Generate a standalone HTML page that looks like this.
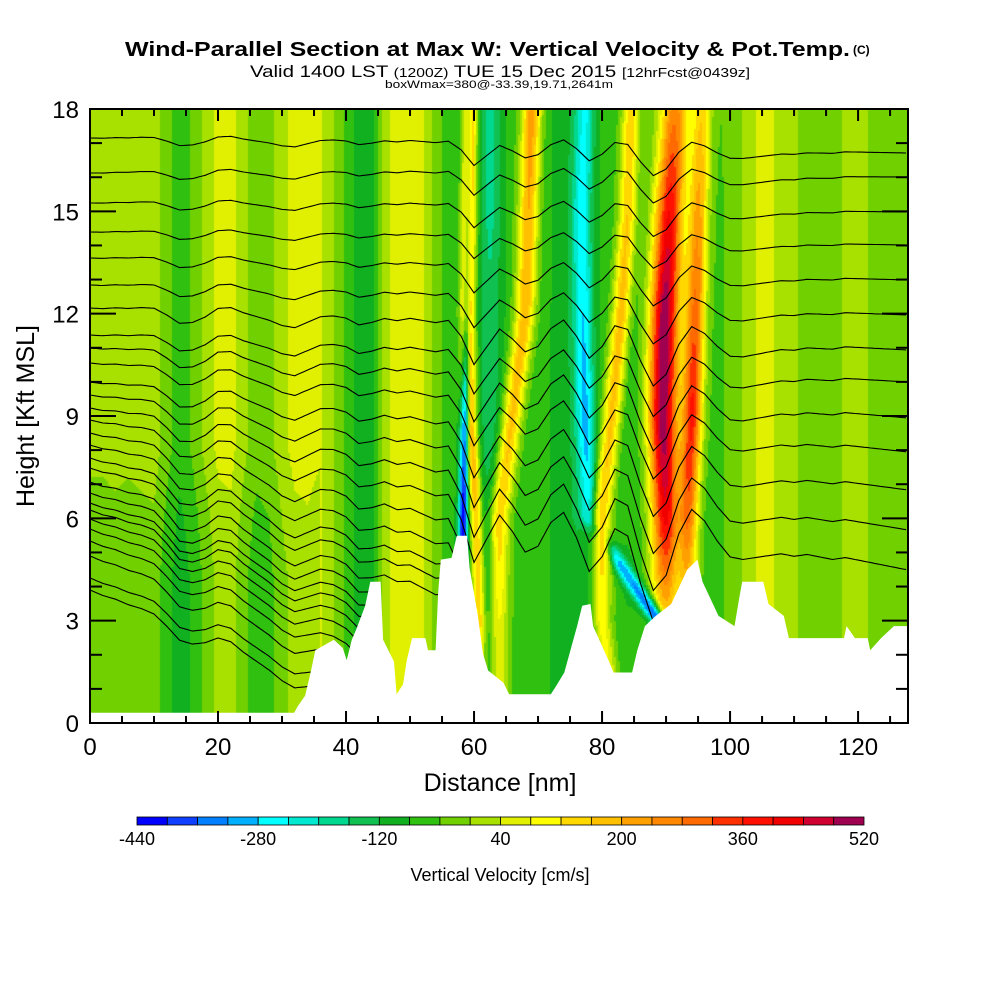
<!DOCTYPE html>
<html><head><meta charset="utf-8"><style>
html,body{margin:0;padding:0;background:#fff;width:1000px;height:1000px;overflow:hidden}
#wrap{position:relative;width:1000px;height:1000px}
#field{position:absolute;left:0;top:0}
#svg{position:absolute;left:0;top:0}
text{font-family:"Liberation Sans",Arial,sans-serif;fill:#000}
</style></head><body>
<div id="wrap">
<canvas id="field" width="1000" height="1000"></canvas>
<svg id="svg" width="1000" height="1000" xmlns="http://www.w3.org/2000/svg">
<g id="contours"></g>
<polygon id="terrain" fill="#fff"></polygon>
<g id="axes"></g>
<text x="125" y="56" font-size="20" font-weight="bold" textLength="725" lengthAdjust="spacingAndGlyphs">Wind-Parallel Section at Max W: Vertical Velocity &amp; Pot.Temp.</text>
<text x="853" y="54" font-size="12" font-weight="bold">(C)</text>
<text x="250" y="77" textLength="500" lengthAdjust="spacingAndGlyphs"><tspan font-size="17">Valid 1400 LST </tspan><tspan font-size="13">(1200Z)</tspan><tspan font-size="17"> TUE 15 Dec 2015 </tspan><tspan font-size="13">[12hrFcst@0439z]</tspan></text>
<text x="385" y="88" font-size="11" textLength="228" lengthAdjust="spacingAndGlyphs">boxWmax=380@-33.39,19.71,2641m</text>
<text x="500" y="791" font-size="25" text-anchor="middle">Distance [nm]</text>
<text transform="translate(34,416) rotate(-90)" font-size="25" text-anchor="middle">Height [Kft MSL]</text>
<g id="cbar"></g>
<text x="500" y="881" font-size="18" text-anchor="middle">Vertical Velocity [cm/s]</text>
</svg>
</div>
<script>
// ---- data ----
const colorBins = ["#0000ff","#1040ff","#0080ff","#00b0ff","#00ffff","#00e8d0","#00d890","#10c050","#10b020","#30c010","#70d000","#a8e000","#e0f000","#ffff00","#ffd800","#ffc000","#ffa000","#ff8800","#ff6a00","#ff3000","#ff1000","#f00000","#d00030","#a00050"];
const cbarTicks = [-440,-280,-120,40,200,360,520];
const xTicks = [0,20,40,60,80,100,120];
const yTicks = [0,3,6,9,12,15,18];
const baseX = [0,2,4,6,8,10,12,14,16,18,20,22,24,26,28,30,32,34,36,38,40,42,44,46,48,50,52,54,56,58,60,62,64,66,68,70,72,74,76,78,80,82,84,86,88,90,92,94,96,98,100,102,104,106,108,110,112,114,116,118,120,122,124,126,128];
const baseW = [10,10,15,10,15,20,-25,-65,-35,10,50,55,10,-25,-15,25,55,60,45,5,-45,-95,-110,25,65,65,45,-15,-60,-80,-80,-100,-90,-60,-60,-60,-80,-100,-120,-100,-70,-60,-80,-60,-40,-40,-30,-30,-60,-50,-30,5,40,45,35,10,-25,-25,-15,5,15,-5,-15,-5,-5];
const lowShiftH = [0,4,6,8,18];
const lowShiftW = [-40,-40,-25,0,0];
const stripeH = [0,3,6,9,12,15,18];
const stripeCenters = [
 [90,90,90,89.5,89.8,90.5,91.4],
 [93,93,93.3,94,94.5,95,95.5],
 [61,61,60.5,59.3,59,59.2,59.5],
 [58.3,58.3,58.3,58.5,58.8,59,59],
 [63,63,62.5,62.5,62.5,62.5,62.5],
 [64,64,64,66,68,68.5,69],
 [88.7,88.7,78,77.3,77,76.8,77.3],
 [82,80,80,81.5,83,84,84.5]
];
const stripePeaks = [
 [100,150,420,520,520,400,260],
 [60,100,300,380,300,220,150],
 [120,180,200,230,260,250,200],
 [-440,-440,-440,-300,0,40,40],
 [-100,-100,-120,-150,-150,-170,-180],
 [60,80,150,170,190,200,220],
 [-300,-360,-260,-300,-280,-270,-250],
 [60,100,150,170,180,160,150]
];
const stripeWidths = [2.2,1.6,1.1,0.7,1.5,1.5,1.4,1.4];
const terrainX = [0,31.9,32.5,33.6,34.5,35.2,38.1,39.5,40.1,40.9,41.7,43.0,43.8,45.4,45.8,47.5,47.9,48.9,49.5,50.3,52.4,52.8,54.0,54.4,54.8,56.5,57.3,58.9,59.3,60.6,61.4,62.2,64.6,65.5,72.0,72.8,74.1,76.1,76.9,78.2,78.6,81.0,81.8,84.7,85.5,86.7,88.4,90.8,93.3,94.9,95.7,98.2,100.7,101.5,101.9,105.2,106.0,108.4,109.2,117.8,118.2,119.5,121.5,121.9,123.6,125.6,127.8];
const terrainH = [0.3,0.3,0.5,0.8,1.5,2.13,2.44,2.2,1.84,2.44,2.79,3.44,4.14,4.14,2.44,1.8,0.84,1.13,1.84,2.49,2.49,2.13,2.13,3.84,4.79,4.84,5.49,5.49,4.54,3.14,2.03,1.54,1.18,0.84,0.84,1.08,1.48,2.84,3.44,3.49,2.84,1.84,1.48,1.48,2.13,2.84,3.14,3.49,4.49,4.79,4.14,3.14,2.84,3.74,4.14,4.14,3.49,3.14,2.49,2.49,2.84,2.49,2.49,2.13,2.49,2.84,2.84];
const waveX = baseX;
const waveD = [0,0,0.05,0.05,0.1,0.1,-0.1,-0.35,-0.3,-0.1,0.2,0.25,0.1,0,-0.1,-0.25,-0.3,-0.1,0.1,0.15,0.1,-0.1,0,0.15,0.1,0.2,0.15,0.1,0.2,-0.3,-1.2,-0.6,0,-0.3,-0.7,-0.5,0.1,0.4,-0.1,-0.8,-0.4,0.3,0.2,-0.8,-1.6,-1.2,-0.2,0.4,0.2,-0.2,-0.5,-0.5,-0.4,-0.3,-0.2,-0.2,-0.1,-0.1,-0.1,0,0,0,0,0,0];
const thetaLeftY = [138,173,203,232,258,285,308,335,348,363,382,395,408,420,433,445,458,468,482,493,503,510,519,529,541,556,578,590];
const thetaRightY = [153,177,212,245,280,315,350,382,418,452,490,530,570,610,650,690,720,740,760,780,800,820,840,860,880,900,920,940];
const thetaAmp = [0.5,0.5,0.5,0.5,0.6,0.7,0.9,0.9,1,1,1.1,1.2,1.3,1.3,1.4,1.4,1.4,1.4,1.4,1.4,1.3,1.3,1.2,1.2,1.1,1.1,1,1];

// ---- scales ----
const X0=90, X1=908, Y0=723, Y1=109, NMMAX=127.8, HMAX=18;
const sx = nm => X0 + nm*(X1-X0)/NMMAX;
const sy = h => Y0 - h*(Y0-Y1)/HMAX;
const inx = px => (px-X0)*NMMAX/(X1-X0);
const iny = py => (Y0-py)*HMAX/(Y0-Y1);
function interp(xs, ys, x){
  if(x<=xs[0]) return ys[0];
  for(let i=1;i<xs.length;i++){ if(x<=xs[i]){ const t=(x-xs[i-1])/(xs[i]-xs[i-1]); return ys[i-1]+t*(ys[i]-ys[i-1]); } }
  return ys[ys.length-1];
}
function wAt(nm,h){
  let w = interp(baseX, baseW, nm);
  if(nm<36) w += interp(lowShiftH, lowShiftW, h);
  for(let s=0;s<stripeCenters.length;s++){
    const c = interp(stripeH, stripeCenters[s], h);
    const p = interp(stripeH, stripePeaks[s], h);
    const d = (nm-c)/stripeWidths[s];
    const f = Math.exp(-d*d);
    w = w + (p-w)*f;
  }
  return w;
}
// ---- field ----
const ctx = document.getElementById('field').getContext('2d');
const step=2;
for(let px=X0; px<X1; px+=step){
  const nm = inx(px+step/2);
  for(let py=Y1; py<Y0; py+=step){
    const h = iny(py+step/2);
    const w = wAt(nm,h);
    let b = Math.floor((w+440)/40); b=Math.max(0,Math.min(23,b));
    ctx.fillStyle = colorBins[b];
    ctx.fillRect(px,py,step,step);
  }
}
const NS="http://www.w3.org/2000/svg";
function mk(tag, attrs, parent){ const e=document.createElementNS(NS,tag); for(const k in attrs) e.setAttribute(k,attrs[k]); parent.appendChild(e); return e; }
// ---- contours ----
const cg = document.getElementById('contours');
for(let i=0;i<thetaLeftY.length;i++){
  const pts=[];
  for(let nm=0; nm<=NMMAX; nm+=0.5){
    const t = nm/NMMAX;
    const baseY = thetaLeftY[i] + t*(thetaRightY[i]-thetaLeftY[i]);
    const d = interp(waveX, waveD, nm)*thetaAmp[i];
    let y = baseY - d*(Y0-Y1)/HMAX;
    y = Math.max(Y1, Math.min(Y0, y));
    const hh = iny(y);
    const th = interp(terrainX, terrainH, nm);
    pts.push(sx(nm).toFixed(1)+","+y.toFixed(1));
    if(nm>28 && hh < th + 0.05) break;
  }
  const pl = mk('polyline',{points:pts.join(' '),fill:'none',stroke:'#000','stroke-width':1.1},cg);
  
  
}
// ---- terrain ----
const tp=[]; for(let i=0;i<terrainX.length;i++) tp.push(sx(terrainX[i]).toFixed(1)+","+sy(terrainH[i]).toFixed(1));
tp.push(X1+","+Y0); tp.push(X0+","+Y0);
document.getElementById('terrain').setAttribute('points', tp.join(' '));
// ---- axes ----
const ag = document.getElementById('axes');
const frame = mk('rect',{x:X0,y:Y1,width:X1-X0,height:Y0-Y1,fill:'none',stroke:'#000','stroke-width':2},ag);


for(let nm=0; nm<=NMMAX; nm+=5){
  const L = (nm%20===0)?12:7, x=sx(nm);
  mk('line',{x1:x,y1:Y0,x2:x,y2:Y0-L,stroke:'#000','stroke-width':2},ag);
  mk('line',{x1:x,y1:Y1,x2:x,y2:Y1+L,stroke:'#000','stroke-width':2},ag);
}
for(let h=0; h<=HMAX; h+=1){
  const L = (h%3===0)?26:12, y=sy(h);
  mk('line',{x1:X0,y1:y,x2:X0+L,y2:y,stroke:'#000','stroke-width':2},ag);
  mk('line',{x1:X1,y1:y,x2:X1-L,y2:y,stroke:'#000','stroke-width':2},ag);
}
xTicks.forEach(v=>{
  const t = mk('text',{x:sx(v),y:755,'font-size':24,'text-anchor':'middle'},ag);
  t.textContent=v;
  
  
});
yTicks.forEach(v=>{
  const t = mk('text',{x:79,y:sy(v)+9,'font-size':24,'text-anchor':'end'},ag);
  t.textContent=v;
  
  
});
// ---- colorbar ----
const cb = document.getElementById('cbar');
const CB0=137, CB1=864, CW=(CB1-CB0)/colorBins.length;
colorBins.forEach((c,i)=>{
  const r = mk('rect',{x:CB0+i*CW,y:817,width:CW,height:8,fill:c,stroke:'#000','stroke-width':0.8},cb);
  
  
});
cbarTicks.forEach(v=>{
  const x = CB0 + (v+440)/40*CW;
  const t = mk('text',{x:x,y:845,'font-size':18,'text-anchor':'middle'},cb);
  t.textContent=v;
  
  
});
</script>
</body></html>
